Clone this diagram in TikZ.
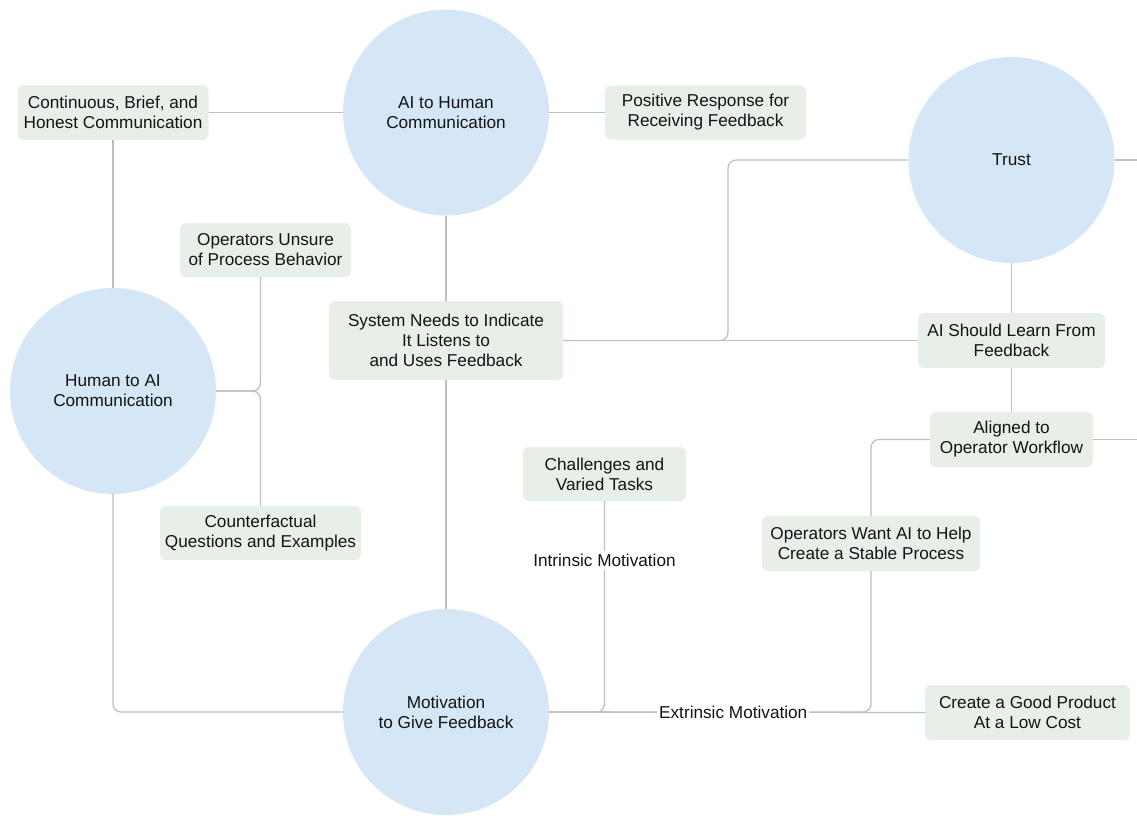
\documentclass[tikz,border=0pt]{standalone}
\usepackage{fontspec}
\setmainfont{Liberation Sans}
\definecolor{circfill}{RGB}{213,230,247}
\definecolor{boxfill}{RGB}{232,239,232}
\definecolor{linkgray}{RGB}{190,190,190}
\definecolor{txt}{RGB}{20,20,20}
\begin{document}
\begin{tikzpicture}[x=1pt,y=-1pt,
  every node/.style={text=txt,font=\fontsize{17.2}{20}\selectfont,align=center,inner sep=0pt},
  topic/.style={circle,fill=circfill,minimum size=206pt},
  item/.style={rectangle,rounded corners=6pt,fill=boxfill},
  link/.style={draw=linkgray,line width=1.2pt,rounded corners=8pt},
  tag/.style={fill=white,inner xsep=2pt,inner ysep=3pt}]
\useasboundingbox (0,0) rectangle (1137,815);
\clip (0,0) rectangle (1137,815);
% topics
\node[topic] (aih) at (446,112.5) {AI to Human\\Communication};
\node[topic] (hai) at (113,391) {Human to AI\\Communication};
\node[topic] (trust) at (1011.5,160) {Trust};
\node[topic] (mot) at (446,712) {Motivation\\to Give Feedback};
% items
\node[item,minimum width=191pt,minimum height=55pt] (cont) at (113,112.5) {Continuous, Brief, and\\Honest Communication};
\node[item,minimum width=201pt,minimum height=54pt] (pos) at (705.5,112.5) {Positive Response for\\Receiving Feedback};
\node[item,minimum width=171pt,minimum height=54pt] (ous) at (265.5,250) {Operators Unsure\\of Process Behavior};
\node[item,minimum width=234pt,minimum height=79pt] (sys) at (446,340.5) {System Needs to Indicate\\It Listens to\\and Uses Feedback};
\node[item,minimum width=187pt,minimum height=55pt] (learn) at (1011.5,340.5) {AI Should Learn From\\Feedback};
\node[item,minimum width=163pt,minimum height=55pt] (align) at (1011.5,439.5) {Aligned to\\Operator Workflow};
\node[item,minimum width=163pt,minimum height=54pt] (chal) at (604.5,474) {Challenges and\\Varied Tasks};
\node[item,minimum width=201pt,minimum height=54pt] (cf) at (260.5,533) {Counterfactual\\Questions and Examples};
\node[item,minimum width=218pt,minimum height=55pt] (want) at (871,543.5) {Operators Want AI to Help\\Create a Stable Process};
\node[item,minimum width=205pt,minimum height=55pt] (good) at (1027.5,712.5) {Create a Good Product\\At a Low Cost};
% free ends and junctions
\coordinate (j1) at (728,340.5);
\coordinate (e1) at (1137,160);
\coordinate (e2) at (1137,439.5);
% connectors
\draw[link] (cont.east) -- (aih.west);
\draw[link] (aih.east) -- (pos.west);
\draw[link] (cont.south) -- (hai.north);
\draw[link] (aih.south) -- (sys.north);
\draw[link] (sys.south) -- (mot.north);
\draw[link] (hai.east) -| (cf.north |- ous.south);
\draw[link] (hai.east) -| (cf.north);
\draw[link] (hai.south) |- (mot.west);
\draw[link] (sys.east) -- (j1) |- (trust.west);
\draw[link] (sys.east) -- (learn.west);
\draw[link] (trust.south) -- (learn.north);
\draw[link] (learn.south) -- (align.north);
\draw[link] (trust.east) -- (e1);
\draw[link] (align.east) -- (e2);
\draw[link] (align.west) -| (want.north);
\draw[link] (mot.east) -| (want.south);
\draw[link] (mot.east) -| (chal.south) node[tag,pos=0.86] {Intrinsic Motivation};
\draw[link] (mot.east) -- (good.west) node[tag,pos=0.49] {Extrinsic Motivation};
\end{tikzpicture}
\end{document}
